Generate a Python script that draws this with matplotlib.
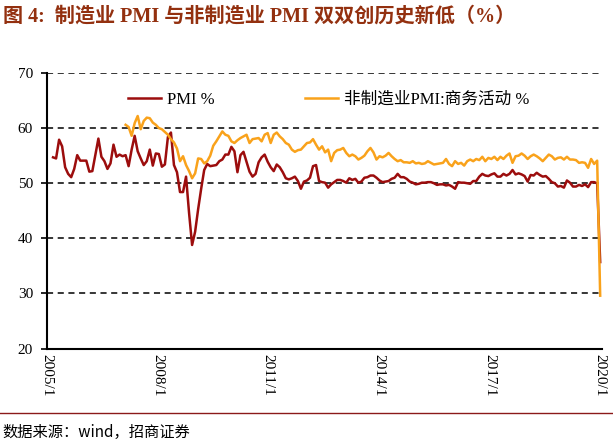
import matplotlib
matplotlib.use("Agg")
import matplotlib.pyplot as plt
import numpy as np

# monthly data, 2005/1 .. 2020/2
pmi = [
    54.7, 54.5, 57.9, 56.7, 52.9, 51.7, 51.1, 52.6, 55.1, 54.1, 54.1, 54.1,  # 2005
    52.1, 52.2, 55.1, 58.1, 54.8, 54.0, 52.6, 53.6, 57.0, 54.8, 55.2, 54.9,  # 2006
    55.1, 53.1, 56.1, 58.6, 55.8, 54.5, 53.3, 54.0, 56.1, 53.2, 55.4, 55.3,  # 2007
    53.0, 53.4, 58.4, 59.2, 53.3, 52.0, 48.4, 48.4, 51.2, 44.6, 38.8, 41.2,  # 2008
    45.3, 49.0, 52.4, 53.5, 53.1, 53.2, 53.3, 54.0, 54.3, 55.2, 55.2, 56.6,  # 2009
    55.8, 52.0, 55.1, 55.7, 53.9, 52.1, 51.2, 51.7, 53.8, 54.7, 55.2, 53.9,  # 2010
    52.9, 52.2, 53.4, 52.9, 52.0, 50.9, 50.7, 50.9, 51.2, 50.4, 49.0, 50.3,  # 2011
    50.5, 51.0, 53.1, 53.3, 50.4, 50.2, 50.1, 49.2, 49.8, 50.2, 50.6, 50.6,  # 2012
    50.4, 50.1, 50.9, 50.6, 50.8, 50.1, 50.3, 51.0, 51.1, 51.4, 51.4, 51.0,  # 2013
    50.5, 50.2, 50.3, 50.4, 50.8, 51.0, 51.7, 51.1, 51.1, 50.8, 50.3, 50.1,  # 2014
    49.8, 49.9, 50.1, 50.1, 50.2, 50.2, 50.0, 49.7, 49.8, 49.8, 49.6, 49.7,  # 2015
    49.4, 49.0, 50.2, 50.1, 50.1, 50.0, 49.9, 50.4, 50.4, 51.2, 51.7, 51.4,  # 2016
    51.3, 51.6, 51.8, 51.2, 51.2, 51.7, 51.4, 51.7, 52.4, 51.6, 51.8, 51.6,  # 2017
    51.3, 50.3, 51.5, 51.4, 51.9, 51.5, 51.2, 51.3, 50.8, 50.2, 50.0, 49.4,  # 2018
    49.5, 49.2, 50.5, 50.1, 49.4, 49.4, 49.7, 49.5, 49.8, 49.3, 50.2, 50.2,  # 2019
    50.0, 35.7,                                                              # 2020
]

# non-manufacturing business activity, starts 2007/1
nmi = [
    60.6, 60.2, 58.6, 60.9, 62.2, 59.8, 61.3, 61.9, 61.8, 61.0, 60.6, 60.0,  # 2007
    59.8, 59.3, 58.8, 58.0, 57.4, 56.3, 54.0, 54.9, 53.3, 52.2, 50.9, 51.8,  # 2008
    54.5, 54.4, 53.6, 54.0, 55.0, 56.8, 57.6, 58.5, 59.4, 58.8, 58.6, 57.6,  # 2009
    57.3, 57.8, 58.2, 58.5, 58.8, 57.3, 58.0, 58.1, 58.2, 57.6, 58.8, 59.1,  # 2010
    57.3, 58.8, 59.2, 58.5, 58.0, 57.3, 57.0, 56.1, 55.7, 56.0, 56.1, 56.7,  # 2011
    57.3, 57.4, 58.0, 57.0, 56.1, 56.7, 55.6, 56.1, 54.0, 55.5, 56.0, 56.1,  # 2012
    56.4, 55.5, 54.9, 55.2, 54.9, 54.3, 54.6, 55.0, 55.8, 56.4, 55.6, 54.3,  # 2013
    54.9, 54.7, 55.0, 55.5, 54.9, 54.4, 54.0, 54.2, 53.8, 53.8, 53.7, 54.0,  # 2014
    53.6, 53.7, 53.5, 53.6, 54.0, 53.7, 53.4, 53.5, 53.6, 53.7, 54.4, 53.5,  # 2015
    53.1, 54.0, 53.5, 53.7, 53.2, 54.0, 54.3, 54.0, 54.4, 54.2, 54.8, 54.0,  # 2016
    54.6, 54.4, 54.8, 54.2, 54.8, 54.4, 55.0, 55.4, 53.7, 54.9, 55.0, 55.4,  # 2017
    55.0, 54.4, 54.9, 55.2, 54.9, 54.5, 54.0, 54.6, 55.2, 54.9, 54.3, 54.6,  # 2018
    54.7, 54.3, 54.8, 54.3, 54.3, 54.2, 53.7, 53.8, 53.7, 52.8, 54.4, 53.5,  # 2019
    54.1, 29.6,                                                              # 2020
]

tick_labels = ["2005/1", "2008/1", "2011/1", "2014/1", "2017/1", "2020/1"]

serif_cn = ["Liberation Serif", "Noto Sans CJK SC"]
plt.rcParams["font.family"] = serif_cn

W, H = 613, 442
fig = plt.figure(figsize=(W / 100, H / 100), dpi=100)
ax = fig.add_axes([47 / W, 1 - 348.6 / H, 555 / W, 275.6 / H])

x_pmi = np.arange(len(pmi))
x_nmi = np.arange(len(pmi) - len(nmi), len(pmi))

ax.plot(x_pmi, pmi, color="#9C0D0D", lw=1.8, label="PMI %")
ax.plot(x_nmi, nmi, color="#F9A21B", lw=1.8, label="非制造业PMI:商务活动 %")

ax.set_ylim(20, 70)
ax.set_yticks(range(20, 71, 10))
ax.set_xlim(-1, len(pmi) - 0.4)
ax.set_xticks(np.linspace(-2, len(pmi) - 1, 6))
ax.set_xticklabels(tick_labels, rotation=-90, fontsize=11)
ax.tick_params(axis="x", length=0, pad=4)
ax.tick_params(axis="y", length=4, width=1.2, direction="out", labelsize=11, pad=6)

for v in range(30, 71, 10):
    ax.axhline(v, color="black", lw=1.1, ls=(0, (4, 3)), zorder=0)

for s in ["top", "right"]:
    ax.spines[s].set_visible(False)
ax.spines["left"].set_linewidth(1.5)
ax.spines["bottom"].set_linewidth(1.5)

ax.legend(loc="center left", bbox_to_anchor=(0.146, 0.902), ncol=2, frameon=False,
          fontsize=12, handlelength=2.0, handletextpad=0.35, columnspacing=5.4,
          borderaxespad=0, borderpad=0)

fig.text(3 / W, 1 - 17 / H, "图 4:  制造业 PMI 与非制造业 PMI 双双创历史新低（%）",
         fontsize=14.5, fontweight="bold", color="#93300F", va="center", ha="left")

fig.add_artist(plt.Line2D([0, 1], [1 - 413 / H, 1 - 413 / H], color="#8B1A1A", lw=1.0))
fig.text(2 / W, 1 - 432 / H, "数据来源：wind，招商证券", fontsize=11,
         family=["Noto Sans CJK SC", "DejaVu Sans"], va="center", ha="left")

fig.savefig("out.png", dpi=100)
